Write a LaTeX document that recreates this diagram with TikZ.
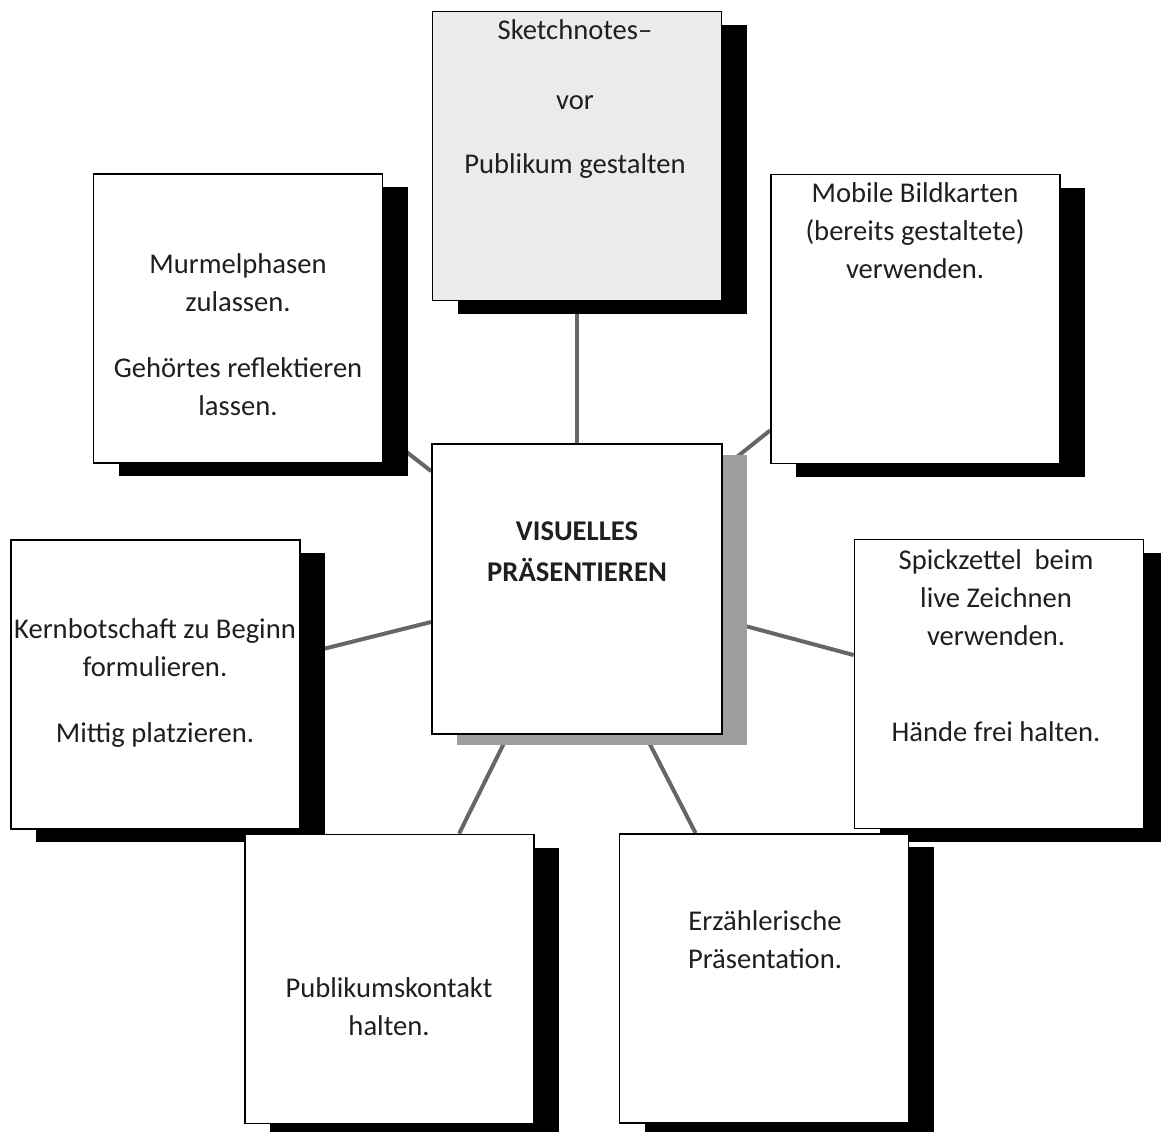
\documentclass[tikz,border=0pt]{standalone}
\usepackage{fontspec}
\setmainfont{Carlito}
\usetikzlibrary{calc,shadows}
\pgfdeclarelayer{lines}
\pgfsetlayers{lines,main}
\begin{document}
\begin{tikzpicture}[x=0.5pt,y=-0.5pt,
  card/.style={draw=black, line width=0.9pt, fill=white,
    minimum width=144.5pt, minimum height=144.5pt, inner sep=0pt,
    drop shadow={shadow xshift=12.5pt, shadow yshift=-6.5pt, fill=black, opacity=1}},
  greycard/.style={card, fill=black!8},
  centercard/.style={draw=black, line width=0.9pt, fill=white,
    minimum width=145pt, minimum height=145pt, inner sep=0pt,
    drop shadow={shadow xshift=12.5pt, shadow yshift=-5.5pt, fill=black!38, opacity=1}},
  txt/.style={font=\fontsize{14.3pt}{19pt}\selectfont, align=center, text=black!88, inner sep=0pt},
  conn/.style={draw=black!60, line width=2pt}
]
\useasboundingbox (0,0) rectangle (1161,1131);

% cards
\node[greycard]   (T) at (577,156) {};
\node[centercard] (C) at (577,589) {};
\node[card]       (M) at (238,318.5) {};
\node[card]       (B) at (915.5,319) {};
\node[card]       (K) at (155.5,684.5) {};
\node[card]       (S) at (999,684) {};
\node[card]       (P) at (389.5,979) {};
\node[card]       (E) at (764,978.5) {};

% texts
\node[txt] (Tt) at (575,99) {Sketchnotes–\\[16pt]vor\\[13pt]Publikum gestalten};
\node[txt] (Mt) at (238,335) {Murmelphasen\\zulassen.\\[14pt]Gehörtes reflektieren\\lassen.};
\node[txt] (Bt) at (915,231) {Mobile Bildkarten\\(bereits gestaltete)\\verwenden.};
\node[txt, font=\fontsize{14.3pt}{20.5pt}\selectfont\bfseries] (Ct) at (577,552) {VISUELLES\\PRÄSENTIEREN};
\node[txt] (Kt) at (155,683) {Kernbotschaft zu Beginn\\formulieren.\\[14pt]Mittig platzieren.};
\node[txt] (St) at (996,646) {Spickzettel\ \ beim\\live Zeichnen\\verwenden.\\[29pt]Hände frei halten.};
\node[txt] (Pt) at (389,1007) {Publikumskontakt\\halten.};
\node[txt] (Et) at (765,940) {Erzählerische\\Präsentation.};

% connectors
\begin{pgfonlayer}{lines}
\draw[conn] (T.south) -- (C.north);
\draw[conn] ($(M.south east)+(0,-30)$) -- ($(C.north west)+(0,28)$);
\draw[conn] ($(C.north east)+(0,25)$) -- ($(B.south west)+(0,-34)$);
\draw[conn] ($(K.east)+(0,-30)$) -- ($(C.west)+(0,33)$);
\draw[conn] ($(C.east)+(0,31)$) -- ($(S.west)+(0,-29)$);
\draw[conn] ($(C.south west)+(77,0)$) -- ($(P.north west)+(215,0)$);
\draw[conn] ($(C.south west)+(214,0)$) -- ($(E.north west)+(77,0)$);
\end{pgfonlayer}
\end{tikzpicture}
\end{document}
